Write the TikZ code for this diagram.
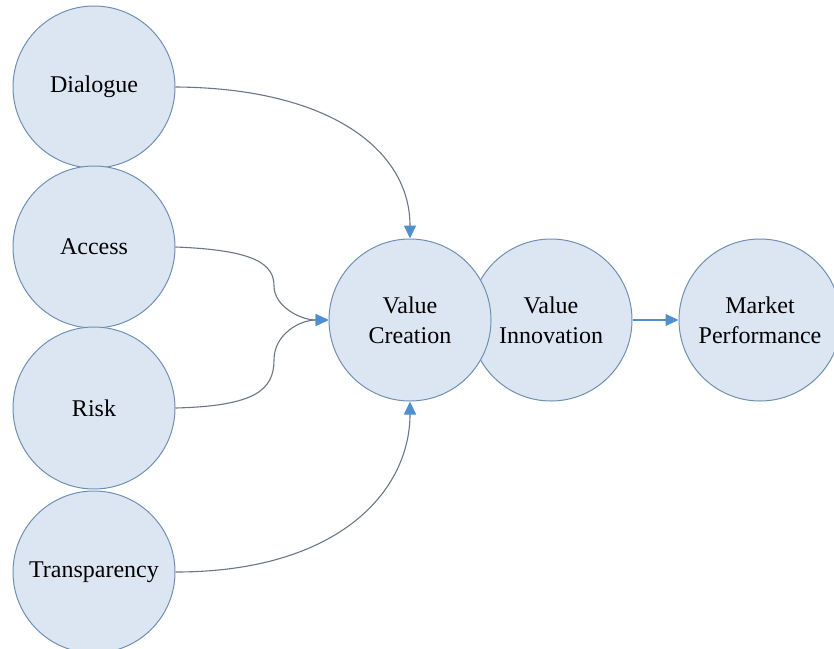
\documentclass[tikz,border=0pt]{standalone}
\usepackage{fontspec}
\setmainfont{Liberation Serif}
\usetikzlibrary{arrows.meta}
\definecolor{cfill}{HTML}{DCE6F2}
\definecolor{cedge}{HTML}{6F8FB3}
\definecolor{lineg}{HTML}{6A7786}
\definecolor{arrb}{HTML}{4F8FD0}
\tikzset{
  bubble/.style={circle, draw=cedge, fill=cfill, line width=1pt, inner sep=0pt,
    minimum size=162pt, align=center, font=\fontsize{24}{30}\selectfont},
  link/.style={draw=lineg, line width=1.1pt,
    -{Triangle[length=13pt,width=12pt,fill=arrb,color=arrb]}},
  bluelink/.style={draw=arrb, line width=1.1pt,
    -{Triangle[length=13pt,width=12pt,fill=arrb,color=arrb]}}
}
\begin{document}
\begin{tikzpicture}[x=1pt,y=-1pt]
\useasboundingbox (0,0) rectangle (834,648);
\node[bubble] (dia) at (94,87) {Dialogue};
\node[bubble] (acc) at (94,247) {Access};
\node[bubble] (risk) at (94,408) {Risk};
\node[bubble] (tra) at (94,572) {Transparency};
\node[bubble] (vi) at (551,320) {Value\\Innovation};
\node[bubble] (vc) at (410,320) {Value\\Creation};
\node[bubble] (mp) at (760,320) {Market\\Performance};
\draw[link] (dia.east) .. controls (330,88) and (410,150) .. (vc.north);
\draw[link] (acc.east) .. controls (255,250) and (274,264) .. (274,286)
  .. controls (274,306) and (300,320) .. (vc.west);
\draw[link] (risk.east) .. controls (255,406) and (274,390) .. (274,360)
  .. controls (274,334) and (300,320) .. (vc.west);
\draw[link] (tra.east) .. controls (340,572) and (410,490) .. (vc.south);
\draw[bluelink] (vi.east) -- (mp.west);
\end{tikzpicture}
\end{document}
